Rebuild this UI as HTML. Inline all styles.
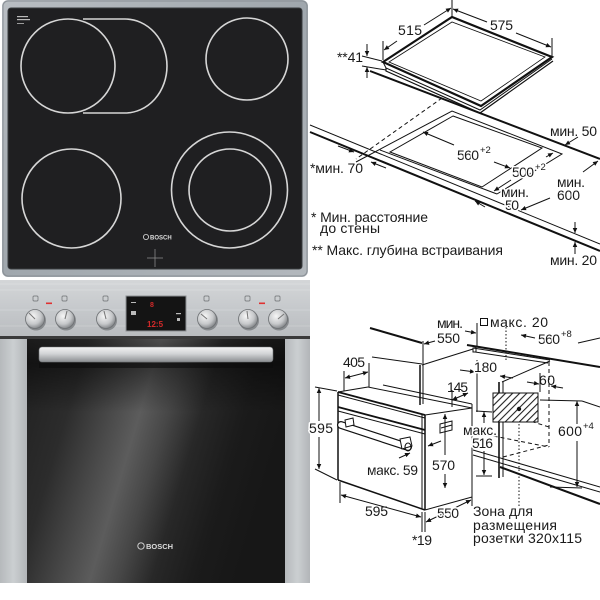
<!DOCTYPE html>
<html><head><meta charset="utf-8">
<style>
html,body{margin:0;padding:0;background:#fff;width:600px;height:600px;overflow:hidden}
svg{display:block}
text{font-family:"Liberation Sans","DejaVu Sans",sans-serif}
.t{font-size:14px;fill:#1a1a1a}
.h{stroke:#fff;stroke-width:3px;paint-order:stroke;stroke-linejoin:round}
.s{font-size:9.5px;fill:#1a1a1a}
</style></head><body>
<svg width="600" height="600" viewBox="0 0 600 600" xmlns="http://www.w3.org/2000/svg">
<defs>
 <linearGradient id="frame" x1="0" y1="0" x2="1" y2="1">
  <stop offset="0" stop-color="#b9bec3"/><stop offset="0.5" stop-color="#a0a7ad"/><stop offset="1" stop-color="#b3b8bd"/>
 </linearGradient>
 <linearGradient id="panel" x1="0" y1="0" x2="0" y2="1">
  <stop offset="0" stop-color="#d4d6d8"/><stop offset="0.5" stop-color="#c6c9cc"/><stop offset="1" stop-color="#b9bcbf"/>
 </linearGradient>
 <linearGradient id="side" x1="0" y1="0" x2="1" y2="0">
  <stop offset="0" stop-color="#b6b9bc"/><stop offset="0.5" stop-color="#cbcfd1"/><stop offset="1" stop-color="#b2b5b8"/>
 </linearGradient>
 <linearGradient id="door" gradientUnits="userSpaceOnUse" x1="27" y1="339" x2="285" y2="416">
  <stop offset="0" stop-color="#202020"/>
  <stop offset="0.22" stop-color="#2c2c2c"/>
  <stop offset="0.38" stop-color="#4a4a4a"/>
  <stop offset="0.48" stop-color="#5c5c5c"/>
  <stop offset="0.58" stop-color="#474747"/>
  <stop offset="0.7" stop-color="#282828"/>
  <stop offset="0.85" stop-color="#1b1b1b"/>
  <stop offset="1" stop-color="#171717"/>
 </linearGradient>
 <linearGradient id="doortop" x1="0" y1="0" x2="0" y2="1">
  <stop offset="0" stop-color="#000" stop-opacity="0.15"/>
  <stop offset="0.1" stop-color="#000" stop-opacity="0.45"/>
  <stop offset="0.3" stop-color="#000" stop-opacity="0"/>
  <stop offset="1" stop-color="#000" stop-opacity="0"/>
 </linearGradient>
 <linearGradient id="handle" x1="0" y1="0" x2="0" y2="1">
  <stop offset="0" stop-color="#f4f4f4"/><stop offset="0.45" stop-color="#d2d4d6"/><stop offset="1" stop-color="#8a8d90"/>
 </linearGradient>
 <radialGradient id="knob" cx="0.4" cy="0.35" r="0.7">
  <stop offset="0" stop-color="#f6f6f6"/><stop offset="0.6" stop-color="#c6c8ca"/><stop offset="1" stop-color="#7a7d80"/>
 </radialGradient>
 <pattern id="hatch" patternUnits="userSpaceOnUse" width="5" height="5" patternTransform="rotate(45)">
  <rect width="5" height="5" fill="#fff"/>
  <line x1="0.5" y1="0" x2="0.5" y2="5" stroke="#222" stroke-width="1.2"/>
 </pattern>
 <marker id="ar" viewBox="0 0 10 10" refX="10" refY="5" markerWidth="7" markerHeight="5" markerUnits="userSpaceOnUse" orient="auto-start-reverse">
  <path d="M0,0.5 L10,5 L0,9.5 z" fill="#111"/>
 </marker>
</defs>

<!-- ================= HOB PHOTO ================= -->
<rect x="2" y="0" width="306" height="277" rx="6" fill="url(#frame)"/>
<rect x="3" y="1" width="304" height="275" rx="5" fill="none" stroke="#8a9096" stroke-width="1"/>
<rect x="8" y="8" width="294" height="261" rx="3" fill="#1f1f21" stroke="#3a3d40" stroke-width="1"/>
<g stroke="#d6d6d6" stroke-width="1.6" fill="none">
 <circle cx="68" cy="66" r="47"/>
 <path d="M83,19 L125,19 A42,47 0 0 1 125,113 L83,113"/>
 <circle cx="247" cy="59" r="41"/>
 <circle cx="71.5" cy="198.5" r="49.5"/>
 <circle cx="229.5" cy="190" r="58"/>
 <circle cx="230" cy="190" r="41"/>
</g>
<g fill="#bbb">
 <rect x="17" y="16" width="11" height="1.2"/>
 <rect x="17" y="19" width="13" height="1.2"/>
 <rect x="17" y="23" width="7" height="0.8"/>
</g>
<circle cx="146" cy="237" r="2.6" fill="none" stroke="#ddd" stroke-width="0.8"/>
<text x="150" y="239.5" font-size="6" font-weight="bold" fill="#ddd">BOSCH</text>
<g stroke="#888" stroke-width="0.8">
 <line x1="147" y1="258" x2="163" y2="258"/>
 <line x1="155" y1="249" x2="155" y2="267"/>
</g>

<!-- ================= OVEN PHOTO ================= -->
<rect x="0" y="280" width="310" height="57" fill="url(#panel)"/>
<g stroke="#fff" stroke-opacity="0.18" stroke-width="1">
 <line x1="0" y1="284" x2="310" y2="284"/><line x1="0" y1="290" x2="310" y2="290"/>
 <line x1="0" y1="310" x2="310" y2="310"/><line x1="0" y1="326" x2="310" y2="326"/>
</g>
<rect x="0" y="336" width="310" height="3" fill="#3a3a3a"/>
<rect x="0" y="339" width="27" height="244" fill="url(#side)"/>
<rect x="285" y="339" width="25" height="244" fill="url(#side)"/>
<rect x="27" y="339" width="258" height="244" fill="url(#door)"/>
<rect x="27" y="339" width="258" height="244" fill="url(#doortop)"/>
<rect x="39" y="363" width="234" height="5" fill="#0c0c0c" opacity="0.6"/>
<rect x="39" y="347" width="234" height="15" rx="3" fill="url(#handle)" stroke="#6f7275" stroke-width="0.6"/>
<circle cx="141" cy="546" r="3.2" fill="none" stroke="#ddd" stroke-width="0.9"/>
<text x="146" y="549" font-size="7.5" font-weight="bold" fill="#ddd">BOSCH</text>

<!-- display -->
<rect x="126" y="296" width="60" height="35" fill="#141414" stroke="#8d9093" stroke-width="1"/>
<text x="150" y="307" font-size="7" fill="#d42a2a" font-weight="bold">8</text>
<text x="147" y="327" font-size="8" fill="#d42a2a" font-weight="bold">12:5</text>
<g fill="#bbb"><rect x="131" y="302" width="5" height="1"/><rect x="131" y="311" width="5" height="4"/><rect x="176" y="313" width="5" height="1.2"/><rect x="177" y="318" width="3" height="3"/></g>

<g stroke="#6a6d70" stroke-width="0.7" fill="none">
 <rect x="33" y="296" width="5" height="5" rx="1"/><rect x="62" y="296" width="5" height="5" rx="1"/>
 <rect x="103" y="296" width="5" height="5" rx="1"/><rect x="204" y="296" width="5" height="5" rx="1"/>
 <rect x="245" y="296" width="5" height="5" rx="1"/><rect x="275" y="296" width="5" height="5" rx="1"/>
</g>
<rect x="46" y="302.5" width="6" height="1.6" fill="#e03030"/>
<rect x="259" y="302.5" width="6" height="1.6" fill="#e03030"/>
<g>
 <circle cx="36" cy="320.5" r="10" fill="#5a5d60" opacity="0.55"/>
 <circle cx="35" cy="319" r="9.5" fill="url(#knob)" stroke="#6d7073" stroke-width="0.8"/>
 <line x1="35" y1="319" x2="29" y2="313" stroke="#777" stroke-width="1"/>
 <circle cx="66" cy="320.5" r="10" fill="#5a5d60" opacity="0.55"/>
 <circle cx="65" cy="319" r="9.5" fill="url(#knob)" stroke="#6d7073" stroke-width="0.8"/>
 <line x1="65" y1="319" x2="67" y2="311" stroke="#777" stroke-width="1"/>
 <circle cx="107" cy="320.5" r="10" fill="#5a5d60" opacity="0.55"/>
 <circle cx="106" cy="319" r="9.5" fill="url(#knob)" stroke="#6d7073" stroke-width="0.8"/>
 <line x1="106" y1="319" x2="104" y2="311" stroke="#777" stroke-width="1"/>
 <circle cx="208" cy="320.5" r="10" fill="#5a5d60" opacity="0.55"/>
 <circle cx="207" cy="319" r="9.5" fill="url(#knob)" stroke="#6d7073" stroke-width="0.8"/>
 <line x1="207" y1="319" x2="201" y2="314" stroke="#777" stroke-width="1"/>
 <circle cx="249" cy="320.5" r="10" fill="#5a5d60" opacity="0.55"/>
 <circle cx="248" cy="319" r="9.5" fill="url(#knob)" stroke="#6d7073" stroke-width="0.8"/>
 <line x1="248" y1="319" x2="247" y2="311" stroke="#777" stroke-width="1"/>
 <circle cx="279" cy="320.5" r="10" fill="#5a5d60" opacity="0.55"/>
 <circle cx="278" cy="319" r="9.5" fill="url(#knob)" stroke="#6d7073" stroke-width="0.8"/>
 <line x1="278" y1="319" x2="284" y2="314" stroke="#777" stroke-width="1"/>
</g>

<!-- ================= HOB DRAWING ================= -->
<g stroke="#111" fill="none" stroke-width="1">
 <polygon points="383,62 452,17 552,57 481,106" stroke-width="2.2"/>
 <polygon points="389,62 452,22 545,57 481,101" stroke-width="0.8"/>
 <polyline points="383,62 386,68 480,110 552,59"/>
 <polyline points="386,68 386,71 480,113 553,61" stroke-width="1.2"/>
 <line x1="370" y1="71" x2="600" y2="159" stroke-width="2"/>
 <line x1="362" y1="56" x2="382" y2="61"/>
 <line x1="362" y1="66" x2="386" y2="70"/>
 <line x1="367" y1="44" x2="367" y2="56" marker-end="url(#ar)"/>
 <line x1="367" y1="78" x2="367" y2="67" marker-end="url(#ar)"/>
 <line x1="383" y1="41" x2="383" y2="60"/>
 <line x1="452" y1="0" x2="452" y2="16"/>
 <line x1="397" y1="41" x2="384" y2="50" marker-end="url(#ar)"/>
 <line x1="424" y1="25" x2="451" y2="8" marker-end="url(#ar)"/>
 <line x1="552" y1="38" x2="552" y2="56"/>
 <line x1="487" y1="22" x2="453" y2="9" marker-end="url(#ar)"/>
 <line x1="516" y1="33" x2="551" y2="47" marker-end="url(#ar)"/>
 <line x1="442" y1="98" x2="356" y2="159" stroke-dasharray="4,3"/>
 <polygon points="453,116 542,148 482,187 390,152"/>
 <polyline points="356,162 452,111 562,154 497,194"/>
 <line x1="380" y1="150" x2="497" y2="194"/>
 <line x1="310" y1="125" x2="600" y2="244"/>
 <line x1="310" y1="132" x2="600" y2="251" stroke-width="2"/>
 <line x1="454" y1="145" x2="423" y2="132" marker-end="url(#ar)"/>
 <line x1="494" y1="162" x2="510" y2="168" marker-end="url(#ar)"/>
 <line x1="511" y1="180" x2="494" y2="191" marker-end="url(#ar)"/>
 <line x1="546" y1="157" x2="553" y2="153" marker-end="url(#ar)"/>
 <line x1="550" y1="198" x2="521" y2="210" marker-end="url(#ar)"/>
 <line x1="583" y1="172" x2="598" y2="161" marker-end="url(#ar)"/>
 <line x1="578" y1="137" x2="565" y2="145" marker-end="url(#ar)"/>
 <line x1="485" y1="207" x2="475" y2="201" marker-end="url(#ar)"/>
 <line x1="575" y1="222" x2="575" y2="233" marker-end="url(#ar)"/>
 <line x1="575" y1="254" x2="575" y2="242" marker-end="url(#ar)"/>
 <line x1="338" y1="146" x2="354" y2="152" marker-end="url(#ar)"/>
 <line x1="386" y1="168" x2="371" y2="162" marker-end="url(#ar)"/>
</g>
<text class="t" x="398" y="35" textLength="24">515</text>
<text class="t" x="490" y="30" textLength="23">575</text>
<text class="t" x="337" y="62" textLength="26">**41</text>
<text class="t" x="550" y="136" textLength="47">мин. 50</text>
<text class="t h" x="457" y="160" textLength="22">560</text>
<text class="s h" x="480" y="153">+2</text>
<text class="t h" x="512" y="177" textLength="22">500</text>
<text class="s h" x="535" y="170">+2</text>
<text class="t" x="310" y="173" textLength="53">*мин. 70</text>
<text class="t h" x="501" y="197" textLength="28">мин.</text>
<text class="t h" x="505" y="210" textLength="14">50</text>
<text class="t h" x="557" y="187" textLength="28">мин.</text>
<text class="t h" x="557" y="200" textLength="23">600</text>
<text class="t" x="311" y="222" textLength="117">* Мин. расстояние</text>
<text class="t" x="320" y="233" textLength="60">до стены</text>
<text class="t" x="312" y="255" textLength="191">** Макс. глубина встраивания</text>
<text class="t" x="550" y="265" textLength="47">мин. 20</text>

<!-- ================= OVEN DRAWING ================= -->
<g stroke="#111" fill="none" stroke-width="1">
 <line x1="370" y1="328" x2="422" y2="343" stroke-width="2"/>
 <line x1="467" y1="345" x2="600" y2="367" stroke-width="2"/>
 <line x1="372" y1="357" x2="422" y2="364"/>
 <line x1="420" y1="365" x2="420" y2="405" stroke-width="1.5"/>
 <line x1="423" y1="364" x2="423" y2="404"/>
 <line x1="422" y1="365" x2="473" y2="349"/>
 <line x1="473" y1="348" x2="550" y2="360"/>
 <line x1="475" y1="352" x2="548" y2="363"/>
 <rect x="473" y="348" width="3" height="4"/>
 <line x1="550" y1="361" x2="502" y2="382"/>
 <line x1="499" y1="382" x2="499" y2="478" stroke-width="1.6"/>
 <line x1="503" y1="381" x2="503" y2="477"/>
 <line x1="338" y1="392" x2="425" y2="415" stroke-width="1.8"/>
 <line x1="338" y1="395" x2="425" y2="418"/>
 <line x1="338" y1="392" x2="338" y2="480" stroke-width="1.5"/>
 <line x1="338" y1="480" x2="425" y2="510" stroke-width="1.5"/>
 <line x1="425" y1="415" x2="425" y2="510" stroke-width="1.5"/>
 <line x1="422" y1="414" x2="422" y2="509"/>
 <line x1="338" y1="392" x2="368" y2="387"/>
 <line x1="368" y1="387" x2="472" y2="408"/>
 <line x1="383" y1="385" x2="472" y2="404"/>
 <line x1="425" y1="415" x2="472" y2="408"/>
 <line x1="472" y1="404" x2="472" y2="497"/>
 <line x1="425" y1="510" x2="472" y2="497"/>
 <line x1="338" y1="407" x2="425" y2="430" stroke-width="1.8"/>
 <line x1="338" y1="411" x2="425" y2="434"/>
 <polygon points="440,424 452,421 452,430 440,433"/>
 <line x1="441" y1="428" x2="452" y2="425"/>
 <line x1="341" y1="425" x2="408" y2="447" stroke-width="8" stroke-linecap="round"/>
 <line x1="341" y1="425" x2="408" y2="447" stroke="#fff" stroke-width="5.6" stroke-linecap="round"/>
 <polygon points="345,420 353,418 354,425 346,427" fill="#fff"/>
 <polygon points="400,439 410,437 412,446 402,449" fill="#fff"/>
 <ellipse cx="408" cy="447" rx="3" ry="4"/>
 <line x1="344" y1="371" x2="344" y2="391"/>
 <line x1="369" y1="363" x2="369" y2="387"/>
 <line x1="345" y1="378" x2="368" y2="372" marker-start="url(#ar)" marker-end="url(#ar)"/>
 <line x1="315" y1="387" x2="337" y2="391"/>
 <line x1="315" y1="469" x2="337" y2="480"/>
 <line x1="319" y1="421" x2="319" y2="388" marker-end="url(#ar)"/>
 <line x1="319" y1="437" x2="319" y2="469" marker-end="url(#ar)"/>
 <line x1="445" y1="455" x2="445" y2="414" marker-end="url(#ar)"/>
 <line x1="445" y1="474" x2="445" y2="488" marker-end="url(#ar)"/>
 <line x1="476" y1="411" x2="492" y2="412"/>
 <line x1="476" y1="476" x2="492" y2="476"/>
 <line x1="484" y1="423" x2="484" y2="412" marker-end="url(#ar)"/>
 <line x1="484" y1="451" x2="484" y2="475" marker-end="url(#ar)"/>
 <line x1="452" y1="390" x2="452" y2="407"/>
 <line x1="452" y1="400" x2="468" y2="393" marker-start="url(#ar)" marker-end="url(#ar)"/>
 <line x1="441" y1="441" x2="428" y2="446" marker-end="url(#ar)"/>
 <line x1="399" y1="458" x2="410" y2="453" marker-end="url(#ar)"/>
 <line x1="340" y1="482" x2="340" y2="503"/>
 <line x1="422" y1="512" x2="422" y2="532"/>
 <line x1="425" y1="512" x2="425" y2="532"/>
 <line x1="341" y1="495" x2="421" y2="517" marker-start="url(#ar)" marker-end="url(#ar)"/>
 <line x1="426" y1="522" x2="471" y2="500" marker-start="url(#ar)" marker-end="url(#ar)"/>
 <line x1="472" y1="497" x2="472" y2="506"/>
 <line x1="460" y1="370" x2="475" y2="372" marker-end="url(#ar)"/>
 <line x1="477" y1="360" x2="477" y2="412"/>
 <line x1="513" y1="378" x2="500" y2="376" marker-end="url(#ar)"/>
 <line x1="423" y1="341" x2="423" y2="364"/>
 <line x1="435" y1="341" x2="424" y2="344" marker-end="url(#ar)"/>
 <line x1="477" y1="323" x2="477" y2="347"/>
 <line x1="465" y1="331" x2="476" y2="333" marker-end="url(#ar)"/>
 <line x1="535" y1="338" x2="521" y2="335" marker-end="url(#ar)"/>
 <line x1="578" y1="343" x2="600" y2="338"/>
 <line x1="540" y1="373" x2="540" y2="392"/>
 <line x1="527" y1="382" x2="539" y2="384" marker-end="url(#ar)"/>
 <line x1="563" y1="388" x2="551" y2="386" marker-end="url(#ar)"/>
 <line x1="540" y1="400" x2="582" y2="401"/>
 <line x1="582" y1="401" x2="600" y2="407"/>
 <line x1="550" y1="487" x2="582" y2="488"/>
 <line x1="577" y1="424" x2="577" y2="401" marker-end="url(#ar)"/>
 <line x1="577" y1="441" x2="577" y2="487" marker-end="url(#ar)"/>
 <line x1="549" y1="362" x2="549" y2="447" stroke-dasharray="4,3"/>
 <line x1="473" y1="432" x2="549" y2="447" stroke-dasharray="4,3"/>
 <line x1="503" y1="457" x2="549" y2="445" stroke-dasharray="4,3"/>
 <line x1="505" y1="413" x2="549" y2="427" stroke-dasharray="4,3"/>
 <line x1="506" y1="320" x2="506" y2="360" stroke-dasharray="1.5,2"/>
 <line x1="519" y1="410" x2="519" y2="507" stroke-dasharray="1.5,2"/>
 <rect x="493" y="393" width="45" height="29" fill="url(#hatch)"/>
 <line x1="473" y1="450" x2="600" y2="487"/>
 <line x1="473" y1="455" x2="600" y2="492"/>
 <line x1="500" y1="467" x2="600" y2="504" stroke-width="2"/>
 <rect x="480.5" y="318.5" width="7" height="7" stroke-width="1"/>
</g>
<circle cx="519" cy="409" r="2.2" fill="#111"/>
<text class="t" x="437" y="328" textLength="26">мин.</text>
<text class="t" x="437" y="343" textLength="23">550</text>
<text class="t" x="490" y="327" textLength="58">макс. 20</text>
<text class="t h" x="538" y="344" textLength="22">560</text>
<text class="s" x="561" y="337">+8</text>
<text class="t" x="343" y="367" textLength="22">405</text>
<text class="t h" x="474" y="372" textLength="23">180</text>
<text class="t" x="447" y="392" textLength="21">145</text>
<text class="t" x="539" y="385" textLength="16">60</text>
<text class="t h" x="309" y="433" textLength="24">595</text>
<text class="t h" x="463" y="435" textLength="34">макс.</text>
<text class="t h" x="472" y="448" textLength="21">516</text>
<text class="t h" x="558" y="436" textLength="24">600</text>
<text class="s" x="583" y="429">+4</text>
<text class="t h" x="367" y="475" textLength="51">макс. 59</text>
<text class="t h" x="432" y="470" textLength="23">570</text>
<text class="t" x="365" y="516" textLength="23">595</text>
<text class="t h" x="437" y="518" textLength="22">550</text>
<text class="t" x="412" y="545" textLength="20">*19</text>
<text class="t" x="473" y="516" textLength="60">Зона для</text>
<text class="t" x="473" y="530" textLength="84">размещения</text>
<text class="t" x="473" y="543" textLength="109">розетки 320x115</text>
</svg>
</body></html>
